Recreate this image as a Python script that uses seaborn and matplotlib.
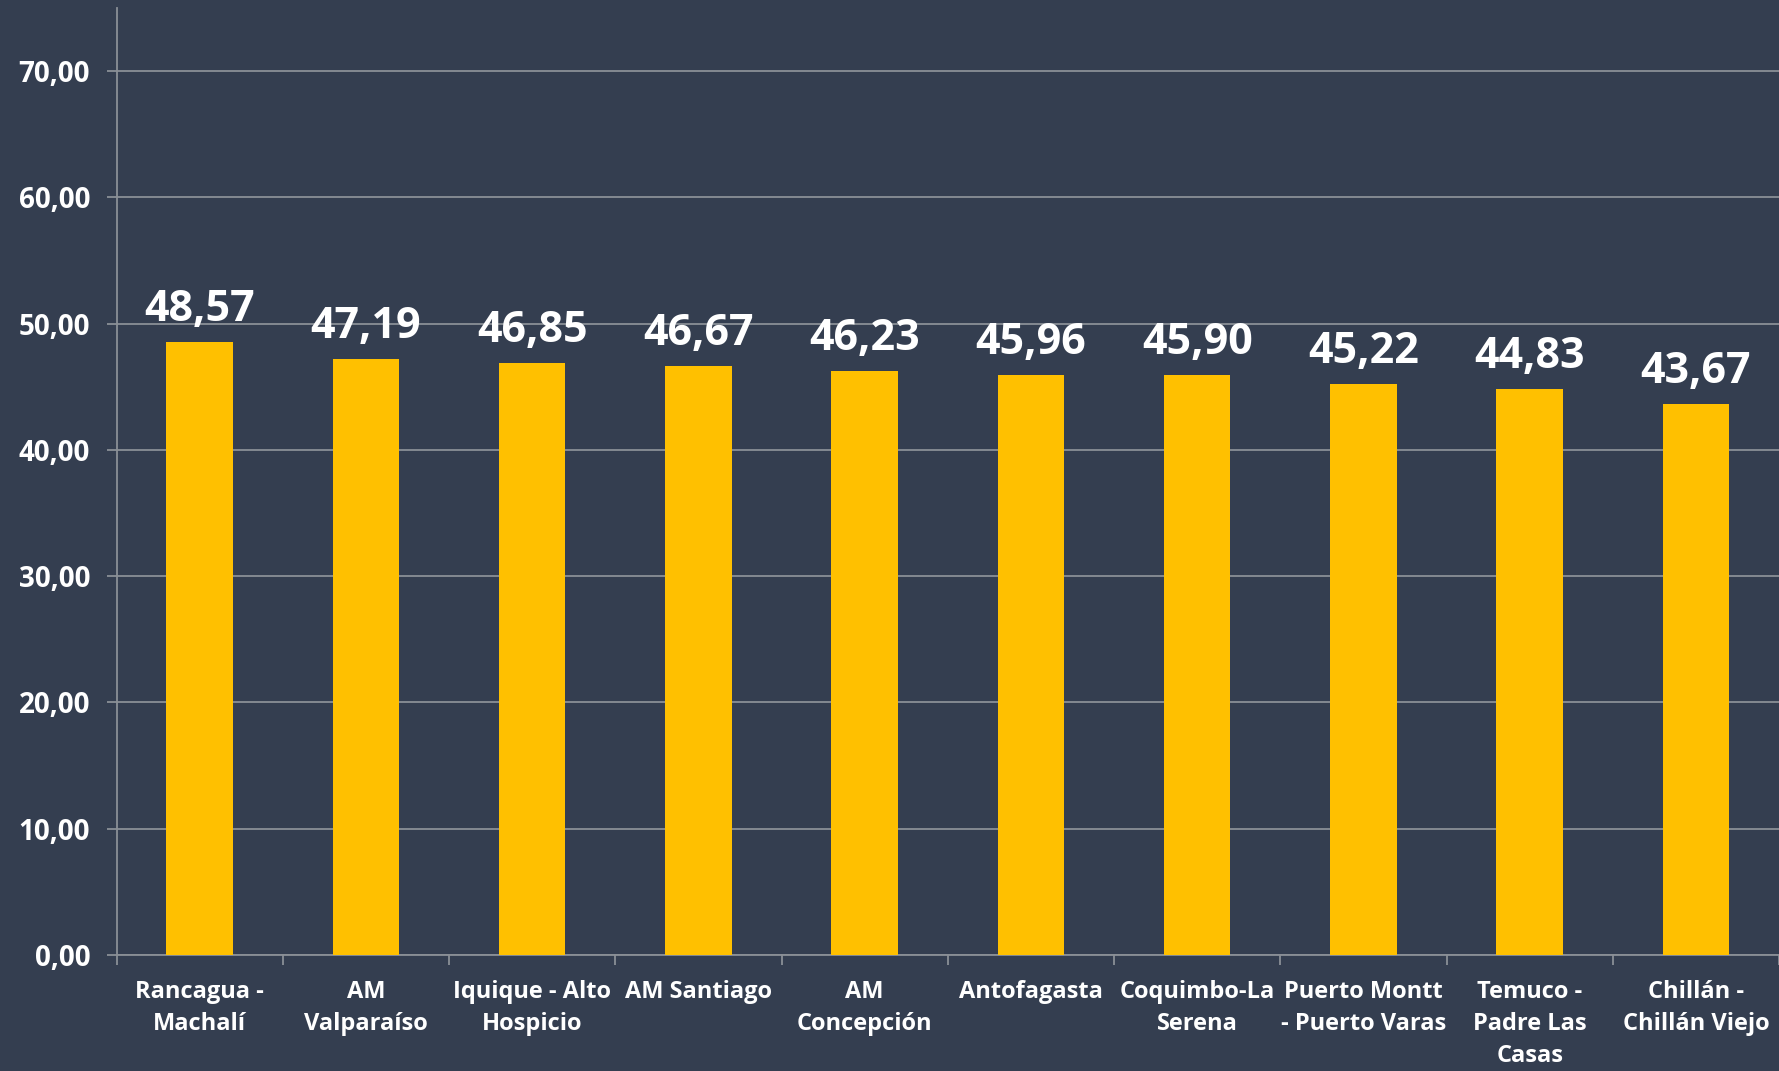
import matplotlib
matplotlib.use('Agg')
import matplotlib.pyplot as plt
import seaborn as sns
import pandas as pd

# Datos
ciudades = ['Rancagua -\nMachalí', 'AM\nValparaíso', 'Iquique - Alto\nHospicio', 'AM Santiago',
            'AM\nConcepción', 'Antofagasta', 'Coquimbo-La\nSerena', 'Puerto Montt\n- Puerto Varas',
            'Temuco -\nPadre Las\nCasas', 'Chillán -\nChillán Viejo']
valores = [48.57, 47.19, 46.85, 46.67, 46.23, 45.96, 45.90, 45.22, 44.83, 43.67]
y_ticks = [0, 10, 20, 30, 40, 50, 60, 70]

fondo = '#343E50'
amarillo = '#FFC000'
gris = '#8A8F96'

sns.set_theme(style='white')
plt.rcParams['font.family'] = ['Open Sans', 'DejaVu Sans']

df = pd.DataFrame({'ciudad': ciudades, 'valor': valores})

fig = plt.figure(figsize=(17.79, 10.71), dpi=100, facecolor=fondo)
ax = fig.add_axes([0.0655, 0.1083, 0.9345, 0.8842])
ax.set_facecolor(fondo)

sns.barplot(data=df, x='ciudad', y='valor', color=amarillo, width=0.4,
            saturation=1, linewidth=0, ax=ax, zorder=3)

ax.set_ylim(0, 75)
ax.set_xlim(-0.5, len(ciudades) - 0.5)
ax.set_yticks(y_ticks)
ax.set_yticklabels([f'{v:.2f}'.replace('.', ',') for v in y_ticks])
ax.yaxis.grid(True, color=gris, linewidth=1.3, zorder=0)
ax.set_axisbelow(True)

for s in ['top', 'right']:
    ax.spines[s].set_visible(False)
for s in ['left', 'bottom']:
    ax.spines[s].set_color(gris)
    ax.spines[s].set_linewidth(1.3)

ax.set_xlabel('')
ax.set_ylabel('')
ax.tick_params(axis='y', colors=gris, labelcolor='white', labelsize=20,
               length=7, width=1.3, direction='out', left=True, pad=12)
ax.tick_params(axis='x', which='major', length=0, labelcolor='white', labelsize=17, pad=18)
ax.set_xticks([i + 0.5 for i in range(-1, len(ciudades))], minor=True)
ax.tick_params(axis='x', which='minor', length=7, width=1.3, color=gris, bottom=True)
for lbl in ax.get_xticklabels():
    lbl.set_linespacing(1.45)
    lbl.set_fontweight('bold')
for lbl in ax.get_yticklabels():
    lbl.set_fontweight('bold')

for i, v in enumerate(valores):
    ax.annotate(f'{v:.2f}'.replace('.', ','), (i, v), xytext=(0, 8),
                textcoords='offset points', ha='center', va='bottom',
                color='white', fontsize=31, fontweight='bold')

fig.savefig('out.png', dpi=100, facecolor=fondo)
